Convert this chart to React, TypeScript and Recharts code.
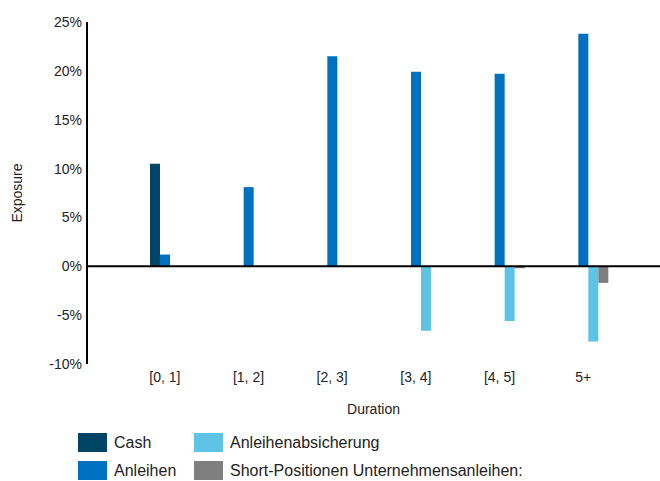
import React from "react";
import { BarChart, Bar, XAxis, YAxis, ReferenceLine } from "recharts";

const categories = ["[0, 1]", "[1, 2]", "[2, 3]", "[3, 4]", "[4, 5]", "5+"];
const cash = [10.5, 0, 0, 0, 0, 0];
const anleihen = [1.2, 8.1, 21.5, 19.9, 19.7, 23.8];
const absicherung = [0, 0, 0, -6.6, -5.6, -7.7];
const shortPos = [0, 0, 0, 0, -0.2, -1.7];
const yTicks = [-10, -5, 0, 5, 10, 15, 20, 25];

const seriesNames = ["Cash", "Anleihen", "Anleihenabsicherung", "Short-Positionen Unternehmensanleihen:"];
const colors = ["#004466", "#0070c0", "#5ec4e6", "#7f7f7f"];

const data = categories.map((c, i) => ({
  name: c,
  cash: cash[i],
  anleihen: anleihen[i],
  absicherung: absicherung[i],
  short: shortPos[i],
}));

const font = "'Liberation Sans', Arial, sans-serif";

export default function App() {
  const legendItems = [
    { name: seriesNames[0], color: colors[0], left: 78, top: 433 },
    { name: seriesNames[2], color: colors[2], left: 194, top: 433 },
    { name: seriesNames[1], color: colors[1], left: 78, top: 461 },
    { name: seriesNames[3], color: colors[3], left: 194, top: 461 },
  ];
  return (
    <div style={{ position: "absolute", left: 0, top: 0, width: 660, height: 481, background: "#fff", fontFamily: font }}>
      <BarChart
        width={660}
        height={481}
        data={data}
        margin={{ top: 22, right: 0, bottom: 57, left: 0 }}
        barGap={0}
        barSize={10}
      >
        <XAxis
          dataKey="name"
          axisLine={false}
          tickLine={false}
          tickSize={0}
          tickMargin={8}
          height={60}
          padding={{ left: 41, right: 30 }}
          tick={{ fill: "#222", fontSize: 14, fontFamily: font, dx: -5 }}
          label={{ value: "Duration", position: "insideBottom", offset: 10, fill: "#222", fontSize: 14, fontFamily: font }}
        />
        <YAxis
          domain={[-10, 25]}
          ticks={yTicks}
          interval={0}
          width={87}
          tickLine={false}
          tickSize={0}
          tickMargin={5}
          axisLine={{ stroke: "#000", strokeWidth: 2 }}
          tickFormatter={(v: number) => `${v}%`}
          tick={{ fill: "#222", fontSize: 14, fontFamily: font }}
          label={{ value: "Exposure", angle: -90, position: "insideLeft", offset: 17, fill: "#222", fontSize: 14, fontFamily: font, style: { textAnchor: "middle" } }}
        />
        <Bar dataKey="cash" fill={colors[0]} isAnimationActive={false} />
        <Bar dataKey="anleihen" fill={colors[1]} isAnimationActive={false} />
        <Bar dataKey="absicherung" fill={colors[2]} isAnimationActive={false} />
        <Bar dataKey="short" fill={colors[3]} isAnimationActive={false} />
        <ReferenceLine y={0} stroke="#000" strokeWidth={2} />
      </BarChart>
      {legendItems.map((it) => (
        <div key={it.name} style={{ position: "absolute", left: it.left, top: it.top, display: "flex", alignItems: "center", height: 19 }}>
          <div style={{ width: 29, height: 19, background: it.color }} />
          <span style={{ marginLeft: 7, fontSize: 16, color: "#222", whiteSpace: "nowrap" }}>{it.name}</span>
        </div>
      ))}
    </div>
  );
}
